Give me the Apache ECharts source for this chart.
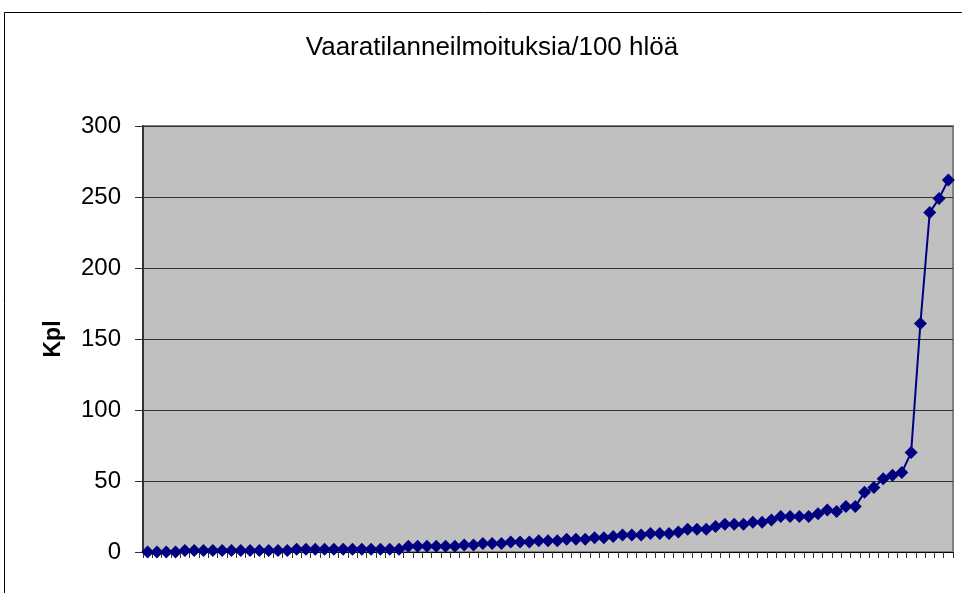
<!DOCTYPE html>
<html>
<head>
<meta charset="utf-8">
<script src="https://cdn.jsdelivr.net/npm/echarts@6/dist/echarts.min.js"></script>
<style>
html,body{margin:0;padding:0;background:#fff;}
#chart{width:962px;height:593px;}
</style>
</head>
<body>
<div id="chart"></div>
<script>
const titleText = 'Vaaratilanneilmoituksia/100 hlöä';
const yAxisName = 'Kpl';
const yTicks = [0, 50, 100, 150, 200, 250, 300];
const values = [
  0, 0, 0, 0, 1, 1, 1, 1, 1, 1,
  1, 1, 1, 1, 1, 1, 2, 2, 2, 2,
  2, 2, 2, 2, 2, 2, 2, 2, 4, 4,
  4, 4, 4, 4, 5, 5, 6, 6, 6, 7,
  7, 7, 8, 8, 8, 9, 9, 9, 10, 10,
  11, 12, 12, 12, 13, 13, 13, 14, 16, 16,
  16, 18, 19.5, 19.5, 19.5, 21, 21, 22.5, 25, 25,
  25, 25, 27, 29.5, 28.5, 32, 32, 42, 45.5, 51.5,
  54, 56, 70, 161, 239, 249, 262
];
const categories = values.map((v, i) => String(i + 1));

const chart = echarts.init(document.getElementById('chart'), null, {renderer: 'canvas'});
const FONT = '"Liberation Sans", Arial, sans-serif';
chart.setOption({
  animation: false,
  backgroundColor: '#ffffff',
  graphic: [{
    type: 'rect',
    shape: {x: 4.5, y: 12.5, width: 1200, height: 1200},
    style: {fill: 'none', stroke: '#000', lineWidth: 1},
    silent: true
  }, {
    type: 'text',
    x: 492, y: 48,
    style: {
      text: titleText, fill: '#000',
      font: 'normal 26px "Liberation Sans", Arial, sans-serif',
      align: 'center', verticalAlign: 'middle'
    },
    silent: true
  }],
  grid: {
    left: 143, right: 9, top: 126, bottom: 41,
    show: true,
    backgroundColor: '#c0c0c0',
    borderColor: '#808080',
    borderWidth: 2
  },
  xAxis: {
    type: 'category',
    data: categories,
    boundaryGap: true,
    axisLine: {show: true, lineStyle: {color: '#000', width: 1}},
    axisTick: {show: true, interval: 0, length: 6, lineStyle: {color: '#333'}},
    axisLabel: {show: false},
    splitLine: {show: false}
  },
  yAxis: {
    type: 'value',
    min: yTicks[0],
    max: yTicks[yTicks.length - 1],
    interval: 50,
    name: yAxisName,
    nameLocation: 'middle',
    nameRotate: 90,
    nameGap: 78,
    nameTextStyle: {fontFamily: FONT, fontSize: 23, fontWeight: 'bold', color: '#000'},
    axisLine: {show: true, lineStyle: {color: '#333', width: 2}},
    axisTick: {show: true, length: 8, lineStyle: {color: '#333'}},
    axisLabel: {fontFamily: FONT, fontSize: 24, color: '#000', margin: 22},
    splitLine: {show: true, lineStyle: {color: '#333', width: 1}}
  },
  series: [{
    type: 'line',
    data: values,
    symbol: 'diamond',
    symbolSize: 13,
    showAllSymbol: true,
    lineStyle: {color: '#000080', width: 2},
    itemStyle: {color: '#000080'}
  }]
});
</script>
</body>
</html>
